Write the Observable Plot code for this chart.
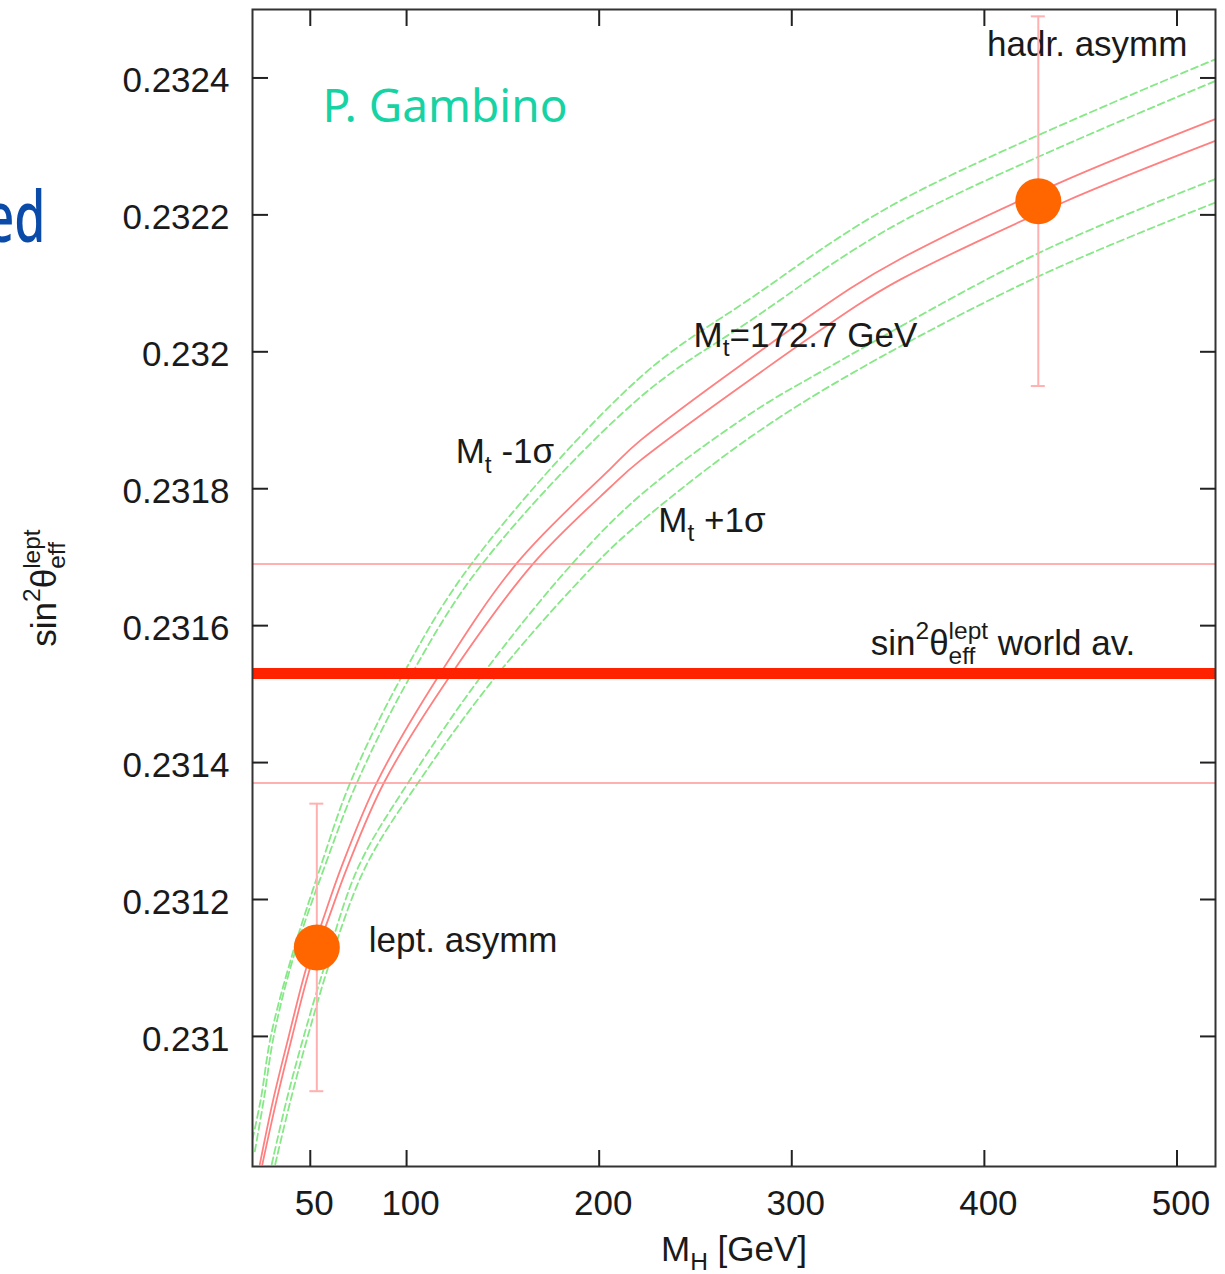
<!DOCTYPE html>
<html>
<head>
<meta charset="utf-8">
<script src="https://cdn.jsdelivr.net/npm/d3@7"></script>
<script src="https://cdn.jsdelivr.net/npm/@observablehq/plot@0.6"></script>
<style>
html, body { margin: 0; padding: 0; background: #fff; overflow: hidden; }
#chart { width: 1225px; height: 1274px; }
</style>
</head>
<body>
<div id="chart"></div>
<script>
// ---------------- data ----------------
const xTicks = [50, 100, 200, 300, 400, 500];
const yTicks = [0.231, 0.2312, 0.2314, 0.2316, 0.2318, 0.232, 0.2322, 0.2324];

// central prediction, Mt = 172.7 GeV (two solid red curves: theory band)
const redUpperMH = [23.8, 30.8, 38.8, 48.2, 55.4, 66.3, 84.8, 117.7, 157.4, 205.9, 221.4, 330.3, 356.3, 437.5, 520];
const redUpperS  = [0.230813, 0.230908, 0.231000, 0.2311025, 0.2311608, 0.2312483, 0.2313723, 0.2315312, 0.2316917, 0.2318293, 0.2318706, 0.2320923, 0.2321356, 0.232245, 0.23234];
const redLowerMH = [25.1, 32.6, 40.6, 50.2, 58.0, 69.4, 88.6, 123.7, 166.1, 205.9, 221.4, 333.8, 356.3, 440.8, 520];
const redLowerS  = [0.230813, 0.230908, 0.231000, 0.2311025, 0.2311608, 0.2312483, 0.2313723, 0.2315312, 0.2316917, 0.2318025, 0.2318414, 0.2320675, 0.2321054, 0.2322181, 0.2323081];

// Mt - 1 sigma (upper dashed green pair)
const minus1MH = [20, 24.3, 29.5, 39.9, 55.4, 71.0, 98.6, 134.1, 221.4, 278.5, 356.3, 520];
const minus1S  = [0.2308497, 0.230908, 0.231, 0.2311122, 0.2312483, 0.2313723, 0.2315312, 0.2316917, 0.2319629, 0.2320777, 0.2322206, 0.2324273];
const minus2MH = [21.2, 25.9, 31.0, 40.9, 57.5, 74.5, 103.0, 139.7, 221.4, 278.5, 356.3, 520];
const minus2S  = [0.2308322, 0.230908, 0.231, 0.2311122, 0.2312483, 0.2313723, 0.2315312, 0.2316917, 0.2319338, 0.2320456, 0.232189, 0.2323956];

// Mt + 1 sigma (lower dashed green pair)
const plus1MH = [30.0, 37.8, 46.6, 58.5, 75.1, 101.2, 140.1, 186.4, 221.4, 278.5, 316.3, 428.9, 520];
const plus1S  = [0.2308133, 0.230908, 0.231, 0.2311122, 0.2312483, 0.2313723, 0.2315312, 0.2316917, 0.2317904, 0.2319095, 0.2319727, 0.2321452, 0.2322523];
const plus2MH = [31.8, 39.9, 48.7, 60.6, 78.8, 106.4, 147.9, 198.6, 221.4, 278.5, 333.8, 428.9, 520];
const plus2S  = [0.2308133, 0.230908, 0.231, 0.2311122, 0.2312483, 0.2313723, 0.2315312, 0.2316917, 0.231751, 0.2318754, 0.2319727, 0.2321112, 0.2322181];

// world average and its band
const worldAv = 0.23153;
const worldErr = 0.00016;

// measurements
const measNames = ["lept. asymm", "hadr. asymm"];
const measMH = [53.4, 428];
const measS = [0.23113, 0.23222];
const measErr = [0.00021, 0.00027];

// annotation labels
const labelText = ["M_{t}=172.7 GeV", "M_{t} -1σ", "M_{t} +1σ", "hadr. asymm", "lept. asymm", "sin^{2}θ^{lept}_{eff} world av."];
const labelMH = [249, 125.5, 230.7, 401.4, 80.4, 341];
const labelS = [0.232007, 0.231837, 0.231737, 0.232432, 0.231124, 0.231557];

const authorText = "P. Gambino";
const authorMH = 56.4;
const authorS = 0.232335;

const xLabel = "M_{H} [GeV]";
const yLabel = "sin^{2}θ^{lept}_{eff}";
const titleFragment = "ed";

// ---------------- build ----------------
const rows = (mh, s) => mh.map((m, i) => ({mh: m, s: s[i]}));
const meas = measNames.map((n, i) => ({name: n, mh: measMH[i], s: measS[i], err: measErr[i]}));
const labels = labelText.map((t, i) => ({t, mh: labelMH[i], s: labelS[i]}));

const fontMain = "'Liberation Sans', Arial, Helvetica, sans-serif";
const textColor = "#1a1a1a";
const redCurve = "#ff8080";
const greenCurve = "#86e886";

const greenOpts = {x: "mh", y: "s", stroke: greenCurve, strokeWidth: 1.8, strokeDasharray: "7,4", curve: "catmull-rom", clip: true};
const redOpts = {x: "mh", y: "s", stroke: redCurve, strokeWidth: 1.8, curve: "catmull-rom", clip: true};

const chart = Plot.plot({
  width: 1225,
  height: 1274,
  marginLeft: 252,
  marginRight: 10,
  marginTop: 9,
  marginBottom: 108,
  x: {domain: [20, 520]},
  y: {domain: [0.23081, 0.2325]},
  style: {fontFamily: fontMain, fontSize: "35px", background: "#fff", color: textColor},
  marks: [
    Plot.line(rows(minus1MH, minus1S), greenOpts),
    Plot.line(rows(minus2MH, minus2S), greenOpts),
    Plot.line(rows(plus1MH, plus1S), greenOpts),
    Plot.line(rows(plus2MH, plus2S), greenOpts),
    Plot.line(rows(redUpperMH, redUpperS), redOpts),
    Plot.line(rows(redLowerMH, redLowerS), redOpts),
    Plot.ruleY([worldAv - worldErr, worldAv + worldErr], {stroke: "#ff9696", strokeWidth: 1.5}),
    Plot.ruleY([worldAv], {stroke: "#ff2200", strokeWidth: 11}),
    Plot.text(labels, {x: "mh", y: "s", text: "t", textAnchor: "start", lineAnchor: "bottom", fill: textColor, fontSize: 35}),
    Plot.text([authorText], {x: () => authorMH, y: () => authorS, text: d => d, textAnchor: "start", lineAnchor: "bottom",
      fill: "#17d3a4", fontSize: 46, fontFamily: "'Noto Sans', 'Open Sans', sans-serif"}),
    Plot.ruleX(meas, {x: "mh", y1: d => d.s - d.err, y2: d => d.s + d.err, stroke: "#ffb0b0", strokeWidth: 2}),
    Plot.ruleY(meas, {y: d => d.s - d.err, x1: "mh", x2: "mh", insetLeft: -7, insetRight: -7, stroke: "#ffb0b0", strokeWidth: 2}),
    Plot.ruleY(meas, {y: d => d.s + d.err, x1: "mh", x2: "mh", insetLeft: -7, insetRight: -7, stroke: "#ffb0b0", strokeWidth: 2}),
    Plot.dot(meas, {x: "mh", y: "s", r: 23, fill: "#ff6600"}),
    Plot.frame({stroke: "#333", strokeWidth: 2}),
    // ticks, pointing inward on all four sides
    Plot.axisX({anchor: "bottom", ticks: xTicks, tickSize: 16, dy: -16, tickFormat: () => "", label: null, stroke: "#222", strokeWidth: 2}),
    Plot.axisX({anchor: "top", ticks: xTicks, tickSize: 16, dy: 16, tickFormat: () => "", label: null, stroke: "#222", strokeWidth: 2}),
    Plot.axisY({anchor: "left", ticks: yTicks, tickSize: 16, dx: 16, tickFormat: () => "", label: null, stroke: "#222", strokeWidth: 2}),
    Plot.axisY({anchor: "right", ticks: yTicks, tickSize: 16, dx: -16, tickFormat: () => "", label: null, stroke: "#222", strokeWidth: 2}),
    // tick labels
    Plot.axisX({anchor: "bottom", ticks: xTicks, tickSize: 0, tickPadding: 24, dx: 4, tickFormat: d => String(d), label: null, fill: textColor}),
    Plot.axisY({anchor: "left", ticks: yTicks, tickSize: 0, tickPadding: 23, dy: 3, tickFormat: d => String(d), label: null, fill: textColor}),
    // axis titles
    Plot.text([xLabel], {text: d => d, frameAnchor: "bottom", dy: 94, lineAnchor: "bottom", textAnchor: "middle", fill: textColor, fontSize: 35}),
    Plot.text([yLabel], {text: d => d, frameAnchor: "left", dx: -197, rotate: -90, lineAnchor: "bottom", textAnchor: "middle", fill: textColor, fontSize: 35}),
    // cut-off slide title fragment
    Plot.text([titleFragment], {text: d => d, frameAnchor: "top-left", dx: -207, dy: 232, textAnchor: "end", lineAnchor: "bottom",
      fill: "#0a4aa8", fontSize: 70, fontWeight: 500, fontFamily: "'Noto Sans', 'Open Sans', sans-serif"})
  ]
});

document.getElementById("chart").appendChild(chart);

// ---------------- sub/superscript rendering ----------------
function rich(el) {
  const markup = el.textContent;
  if (!/[\^_]\{/.test(markup)) return;
  const fs = parseFloat(getComputedStyle(el).fontSize) || 35;
  el.textContent = "";
  const parts = markup.split(/(\^\{[^}]*\}|_\{[^}]*\})/).filter(s => s.length);
  const supShift = -0.45 * fs, subShift = 0.26 * fs, small = 0.7 * fs;
  let shift = 0, prevKind = "n", prevW = 0, pendingDx = 0;
  for (const p of parts) {
    let kind = "n", txt = p;
    if (p.startsWith("^{")) { kind = "sup"; txt = p.slice(2, -1); }
    else if (p.startsWith("_{")) { kind = "sub"; txt = p.slice(2, -1); }
    const target = kind === "sup" ? supShift : kind === "sub" ? subShift : 0;
    const t = document.createElementNS("http://www.w3.org/2000/svg", "tspan");
    t.textContent = txt;
    t.setAttribute("dy", target - shift);
    if (kind !== "n") t.setAttribute("font-size", small);
    const stacking = kind !== "n" && (prevKind === "sup" || prevKind === "sub") && kind !== prevKind;
    let dx = stacking ? -prevW : pendingDx;
    if (dx) t.setAttribute("dx", dx);
    el.appendChild(t);
    const w = t.getComputedTextLength();
    pendingDx = stacking ? Math.max(0, prevW - w) : 0;
    shift = target;
    prevKind = stacking ? "x" : kind;
    prevW = w;
  }
}
chart.querySelectorAll("text").forEach(rich);

// the cut-off title fragment uses a narrower face in the reference
chart.querySelectorAll("text").forEach(el => {
  if (el.textContent === titleFragment) {
    el.setAttribute("textLength", 60);
    el.setAttribute("lengthAdjust", "spacingAndGlyphs");
  }
});
</script>
</body>
</html>
